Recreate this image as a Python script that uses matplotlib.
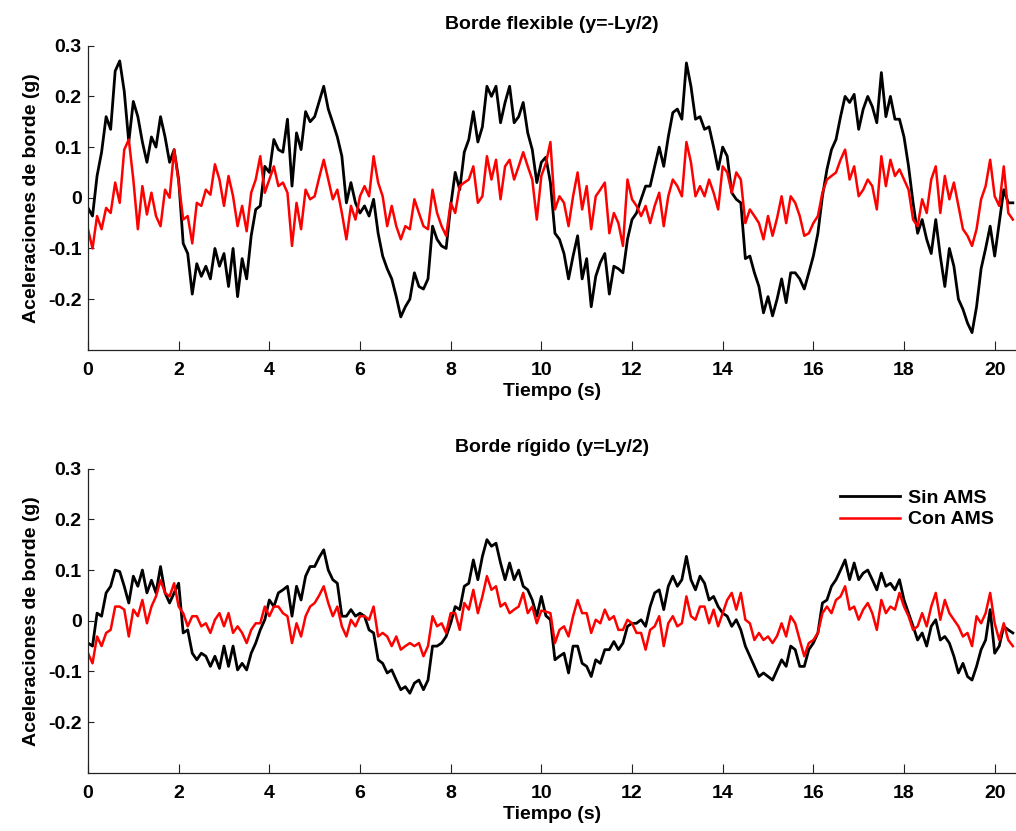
import numpy as np
import matplotlib
matplotlib.use("Agg")
import matplotlib.pyplot as plt

plt.rcParams["font.family"] = ["Liberation Sans", "DejaVu Sans"]
plt.rcParams["axes.unicode_minus"] = False

# muestreo cada 0.1 s, de 0 a 20.4 s
tiempo = np.linspace(0, 20.4, 205)

# ── Borde flexible (y=-Ly/2) ───────────────────────────────────────────
flex_sin = [
    -0.02, -0.036, 0.043, 0.09, 0.16, 0.135, 0.25, 0.27, 0.21, 0.11,
    0.19, 0.16, 0.11, 0.07, 0.12, 0.10, 0.16, 0.12, 0.07, 0.095,
    0.036, -0.09, -0.11, -0.19, -0.13, -0.155, -0.135, -0.16, -0.10, -0.135,
    -0.11, -0.175, -0.10, -0.195, -0.12, -0.16, -0.075, -0.023, -0.016, 0.062,
    0.05, 0.115, 0.095, 0.09, 0.155, 0.023, 0.128, 0.095, 0.17, 0.15,
    0.16, 0.19, 0.22, 0.175, 0.148, 0.12, 0.082, -0.01, 0.03, -0.01,
    -0.03, -0.016, -0.036, -0.003, -0.07, -0.115, -0.14, -0.16, -0.195, -0.235,
    -0.215, -0.20, -0.148, -0.175, -0.18, -0.16, -0.056, -0.082, -0.095, -0.10,
    -0.016, 0.05, 0.016, 0.09, 0.115, 0.17, 0.11, 0.14, 0.22, 0.20,
    0.22, 0.148, 0.188, 0.22, 0.148, 0.16, 0.188, 0.128, 0.095, 0.03,
    0.07, 0.08, 0.03, -0.07, -0.082, -0.11, -0.16, -0.115, -0.075, -0.16,
    -0.12, -0.215, -0.155, -0.128, -0.11, -0.19, -0.135, -0.14, -0.148, -0.082,
    -0.043, -0.03, -0.003, 0.023, 0.023, 0.062, 0.10, 0.062, 0.12, 0.168,
    0.175, 0.155, 0.266, 0.22, 0.155, 0.16, 0.135, 0.14, 0.10, 0.056,
    0.10, 0.082, 0.01, -0.003, -0.01, -0.12, -0.115, -0.148, -0.175, -0.227,
    -0.195, -0.233, -0.20, -0.16, -0.207, -0.148, -0.148, -0.16, -0.18, -0.148,
    -0.115, -0.07, 0.003, 0.056, 0.095, 0.115, 0.16, 0.20, 0.188, 0.204,
    0.135, 0.175, 0.20, 0.18, 0.148, 0.247, 0.16, 0.20, 0.155, 0.155,
    0.12, 0.062, -0.01, -0.07, -0.043, -0.082, -0.11, -0.043, -0.115, -0.175,
    -0.10, -0.135, -0.20, -0.22, -0.247, -0.266, -0.215, -0.14, -0.10, -0.056,
    -0.115, -0.05, 0.016, -0.01, -0.01,
]
flex_con = [
    -0.062, -0.10, -0.036, -0.062, -0.02, -0.03, 0.03, -0.01, 0.095, 0.115,
    0.036, -0.062, 0.023, -0.033, 0.01, -0.036, -0.056, 0.016, 0.0, 0.095,
    0.03, -0.043, -0.036, -0.09, -0.01, -0.016, 0.016, 0.006, 0.066, 0.036,
    -0.016, 0.043, 0.003, -0.056, -0.016, -0.066, 0.01, 0.036, 0.082, 0.01,
    0.036, 0.062, 0.023, 0.03, 0.01, -0.095, -0.01, -0.062, 0.016, -0.003,
    0.003, 0.04, 0.075, 0.036, -0.003, 0.016, -0.03, -0.082, -0.016, -0.043,
    0.003, 0.023, 0.003, 0.082, 0.03, 0.003, -0.056, -0.016, -0.056, -0.082,
    -0.056, -0.062, -0.003, -0.03, -0.056, -0.062, 0.016, -0.03, -0.056, -0.075,
    -0.01, -0.03, 0.023, 0.03, 0.036, 0.062, -0.01, 0.003, 0.082, 0.036,
    0.075, -0.003, 0.062, 0.075, 0.036, 0.062, 0.09, 0.062, 0.036, -0.043,
    0.043, 0.068, 0.11, -0.023, 0.003, -0.01, -0.056, 0.003, 0.05, -0.023,
    0.023, -0.062, 0.003, 0.016, 0.03, -0.07, -0.03, -0.05, -0.095, 0.036,
    -0.003, -0.016, -0.036, -0.016, -0.05, -0.016, 0.01, -0.056, 0.003, 0.036,
    0.023, 0.003, 0.11, 0.07, 0.003, 0.023, 0.003, 0.036, 0.01, -0.023,
    0.062, 0.05, 0.01, 0.05, 0.036, -0.05, -0.023, -0.036, -0.05, -0.082,
    -0.036, -0.075, -0.04, 0.003, -0.05, 0.003, -0.01, -0.036, -0.075, -0.07,
    -0.05, -0.036, 0.01, 0.036, 0.043, 0.05, 0.075, 0.095, 0.036, 0.062,
    0.003, 0.016, 0.036, 0.023, -0.023, 0.082, 0.023, 0.075, 0.043, 0.056,
    0.036, 0.016, -0.043, -0.056, -0.003, -0.03, 0.036, 0.062, -0.03, 0.043,
    -0.003, 0.03, -0.016, -0.062, -0.075, -0.095, -0.062, -0.003, 0.023, 0.075,
    0.003, -0.016, 0.062, -0.03, -0.043,
]

# ── Borde rígido (y=Ly/2) ──────────────────────────────────────────────
rig_sin = [
    -0.044, -0.05, 0.015, 0.009, 0.055, 0.068, 0.10, 0.097, 0.068, 0.035,
    0.088, 0.068, 0.10, 0.055, 0.08, 0.055, 0.107, 0.055, 0.035, 0.055,
    0.074, -0.024, -0.018, -0.064, -0.077, -0.064, -0.07, -0.09, -0.07, -0.094,
    -0.05, -0.09, -0.05, -0.097, -0.084, -0.097, -0.064, -0.044, -0.018, 0.002,
    0.041, 0.028, 0.055, 0.061, 0.068, 0.009, 0.068, 0.041, 0.088, 0.107,
    0.107, 0.125, 0.14, 0.10, 0.081, 0.074, 0.009, 0.009, 0.022, 0.009,
    0.015, 0.009, -0.018, -0.024, -0.077, -0.084, -0.103, -0.097, -0.117, -0.136,
    -0.13, -0.143, -0.123, -0.117, -0.136, -0.117, -0.05, -0.05, -0.044, -0.031,
    -0.005, 0.028, 0.022, 0.068, 0.074, 0.12, 0.081, 0.127, 0.16, 0.147,
    0.153, 0.114, 0.081, 0.114, 0.081, 0.10, 0.068, 0.061, 0.041, 0.009,
    0.048, 0.01, 0.002, -0.077, -0.07, -0.064, -0.103, -0.05, -0.05, -0.084,
    -0.09, -0.11, -0.077, -0.084, -0.057, -0.057, -0.041, -0.057, -0.044, -0.011,
    -0.005, -0.005, 0.002, -0.011, 0.028, 0.055, 0.061, 0.022, 0.068, 0.088,
    0.068, 0.081, 0.127, 0.081, 0.061, 0.088, 0.074, 0.041, 0.048, 0.028,
    0.015, 0.009, -0.011, 0.002, -0.018, -0.05, -0.07, -0.09, -0.11, -0.103,
    -0.11, -0.117, -0.097, -0.077, -0.09, -0.05, -0.057, -0.09, -0.09, -0.057,
    -0.044, -0.024, 0.035, 0.041, 0.068, 0.081, 0.10, 0.12, 0.081, 0.114,
    0.081, 0.094, 0.10, 0.081, 0.061, 0.094, 0.068, 0.074, 0.061, 0.081,
    0.041, 0.015, -0.011, -0.038, -0.024, -0.05, -0.011, 0.002, -0.038, -0.031,
    -0.044, -0.07, -0.103, -0.084, -0.11, -0.117, -0.09, -0.057, -0.038, 0.022,
    -0.064, -0.05, -0.011, -0.018, -0.024,
]
rig_con = [
    -0.064, -0.084, -0.031, -0.05, -0.024, -0.018, 0.028, 0.028, 0.022, -0.031,
    0.022, 0.009, 0.041, -0.005, 0.028, 0.048, 0.08, 0.055, 0.048, 0.074,
    0.028, 0.015, -0.011, 0.009, 0.009, -0.011, -0.005, -0.024, 0.002, 0.015,
    -0.011, 0.015, -0.024, -0.011, -0.024, -0.044, -0.018, -0.005, -0.005, 0.028,
    0.009, 0.028, 0.028, 0.015, 0.009, -0.044, -0.005, -0.031, 0.009, 0.028,
    0.035, 0.05, 0.068, 0.035, 0.009, 0.028, -0.011, -0.031, 0.002, -0.011,
    0.009, 0.009, 0.002, 0.028, -0.031, -0.024, -0.031, -0.05, -0.031, -0.057,
    -0.05, -0.044, -0.05, -0.044, -0.07, -0.05, 0.009, -0.011, -0.005, -0.024,
    0.015, 0.015, -0.018, 0.035, 0.022, 0.061, 0.015, 0.048, 0.088, 0.061,
    0.068, 0.028, 0.035, 0.015, 0.022, 0.028, 0.055, 0.015, 0.028, -0.005,
    0.02, 0.018, 0.015, -0.044, -0.018, -0.011, -0.031, 0.009, 0.041, 0.015,
    0.015, -0.024, 0.002, -0.005, 0.022, 0.002, 0.009, -0.018, -0.018, 0.002,
    -0.005, -0.024, -0.024, -0.057, -0.018, -0.011, 0.009, -0.05, -0.005, 0.009,
    -0.011, -0.005, 0.048, 0.009, 0.002, 0.028, 0.028, -0.005, 0.022, -0.011,
    0.015, 0.041, 0.055, 0.022, 0.055, 0.002, -0.005, -0.038, -0.024, -0.038,
    -0.031, -0.044, -0.03, -0.005, -0.031, 0.009, -0.005, -0.038, -0.07, -0.044,
    -0.038, -0.024, 0.015, 0.028, 0.015, 0.041, 0.048, 0.068, 0.022, 0.028,
    0.002, 0.022, 0.035, 0.015, -0.018, 0.041, 0.015, 0.028, 0.022, 0.055,
    0.028, 0.009, -0.018, -0.011, 0.015, -0.011, 0.028, 0.055, 0.002, 0.041,
    0.015, 0.002, -0.011, -0.031, -0.024, -0.05, 0.009, -0.005, 0.015, 0.055,
    -0.005, -0.038, -0.005, -0.038, -0.05,
]

paneles = [
    ("Borde flexible (y=-Ly/2)", flex_sin, flex_con),
    ("Borde rígido (y=Ly/2)", rig_sin, rig_con),
]
x_ticks = [0, 2, 4, 6, 8, 10, 12, 14, 16, 18, 20]
y_ticks = [-0.2, -0.1, 0, 0.1, 0.2, 0.3]
y_ticklabels = ["-0.2", "-0.1", "0", "0.1", "0.2", "0.3"]

fig = plt.figure(figsize=(10.16, 8.31), dpi=100)
ax1 = fig.add_axes([0.0866, 0.579, 0.9134, 0.366])
ax2 = fig.add_axes([0.0866, 0.070, 0.9134, 0.366])

for ax, (titulo, sin_ams, con_ams) in zip([ax1, ax2], paneles):
    ax.plot(tiempo, sin_ams, color="black", linewidth=2.0, label="Sin AMS")
    ax.plot(tiempo, con_ams, color="#ff0000", linewidth=1.8, label="Con AMS")
    ax.set_xlim(0, 20.47)
    ax.set_ylim(-0.3, 0.3)
    ax.set_xticks(x_ticks)
    ax.set_yticks(y_ticks)
    ax.set_yticklabels(y_ticklabels)
    for s in ["top", "right"]:
        ax.spines[s].set_visible(False)
    for s in ["left", "bottom"]:
        ax.spines[s].set_linewidth(0.9)
        ax.spines[s].set_color("#222222")
    ax.tick_params(axis="x", direction="in", length=6.5, width=0.8,
                   labelsize=14, pad=8.5, color="#222222")
    ax.tick_params(axis="y", direction="in", length=4.5, width=0.8,
                   labelsize=14, pad=4.5, color="#222222")
    for lbl in ax.get_xticklabels() + ax.get_yticklabels():
        lbl.set_fontweight("bold")
    ax.set_title(titulo, fontsize=14, fontweight="bold", pad=12)
    ax.set_xlabel("Tiempo (s)", fontsize=14, fontweight="bold", labelpad=3)
    ax.set_ylabel("Aceleraciones de borde (g)", fontsize=14,
                  fontweight="bold", labelpad=6)

ax2.legend(loc="upper right", bbox_to_anchor=(0.995, 0.99), frameon=False,
           handlelength=3.1, handletextpad=0.4, labelspacing=0.2,
           prop={"size": 14, "weight": "bold"})

plt.savefig("out.png", dpi=100)
